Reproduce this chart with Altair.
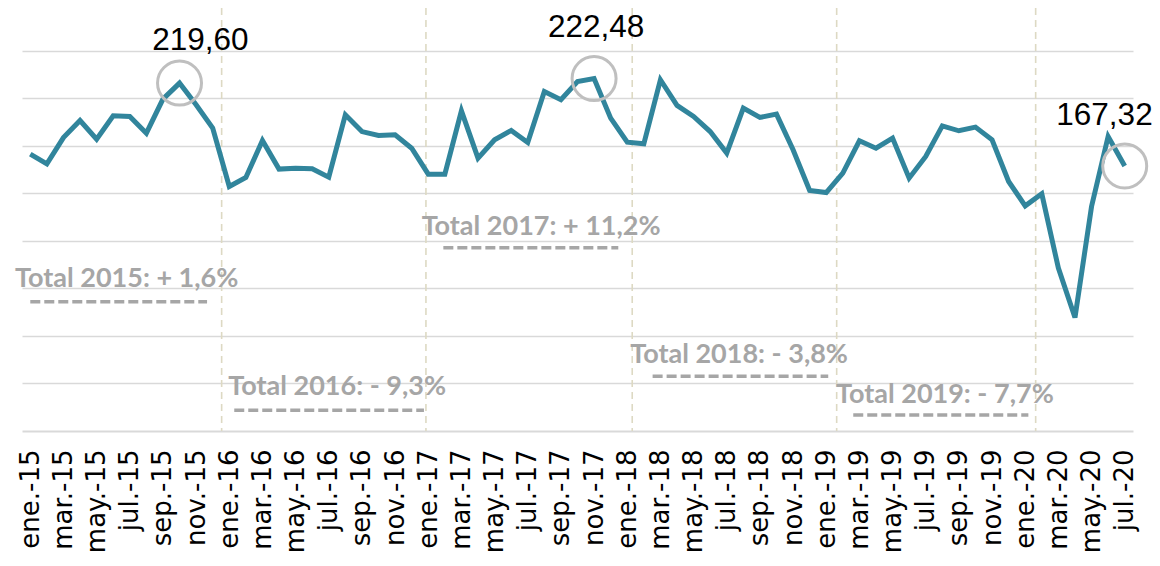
import altair as alt
import pandas as pd

month_abbr = ["ene.", "feb.", "mar.", "abr.", "may.", "jun.",
              "jul.", "ago.", "sep.", "oct.", "nov.", "dic."]
years = ["15", "16", "17", "18", "19", "20"]
months = [f"{m}-{y}" for y in years for m in month_abbr][:67]

values = [
    174.8, 168.6, 185.2, 196.0, 184.2, 199.0, 198.5, 188.0, 209.5, 219.60, 205.9, 191.2,
    154.3, 160.0, 183.4, 165.3, 165.9, 165.5, 160.2, 199.6, 189.0, 186.5, 187.0, 178.5,
    162.1, 162.1, 202.1, 172.2, 183.8, 189.7, 182.1, 214.3, 209.1, 220.6, 222.48, 197.5,
    182.3, 181.3, 221.7, 205.5, 198.5, 189.0, 175.4, 203.8, 197.9, 200.0, 177.5, 151.8,
    150.5, 162.8, 183.2, 178.5, 184.9, 159.6, 173.3, 192.6, 189.5, 191.8, 183.8, 157.5,
    142.1, 149.7, 102.8, 71.6, 141.7, 185.9, 167.32,
]

# highlighted points and where their value labels sit (data units)
highlight_idx = [9, 34, 66]
label_x = [10.26, 34.12, 64.78]
label_y = [240.5, 248.7, 193.1]

# yearly totals annotations (data units)
total_texts = ["Total 2015: + 1,6%", "Total 2016: - 9,3%", "Total 2017: + 11,2%",
               "Total 2018: - 3,8%", "Total 2019: - 7,7%"]
total_x = [-0.92, 11.94, 23.6, 36.18, 48.59]
total_y = [91.1, 23.0, 123.7, 42.7, 17.9]
dash_x1 = [0.0, 12.3, 24.91, 37.53, 49.63]
dash_x2 = [10.66, 23.74, 35.46, 48.12, 60.19]
dash_y = [81.6, 13.1, 115.7, 34.5, 10.1]

# year separators (month-index units)
year_lines = [11.54, 23.86, 36.30, 48.63, 60.63]

df = pd.DataFrame({"idx": list(range(len(months))), "month": months, "value": values})
hl = pd.DataFrame({
    "idx": highlight_idx,
    "value": [values[i] for i in highlight_idx],
    "lx": label_x,
    "ly": label_y,
    "text": [f"{values[i]:.2f}".replace(".", ",") for i in highlight_idx],
})
totals = pd.DataFrame({"text": total_texts, "tx": total_x, "ty": total_y,
                       "x1": dash_x1, "x2": dash_x2, "dy": dash_y})
ylines = pd.DataFrame({"yx": year_lines})

label_js = "[" + ",".join(f"'{m}'" for m in months) + "]"

xscale = alt.Scale(domain=[-0.5, 66.5], nice=False, zero=False)
yscale = alt.Scale(domain=[0, 267], nice=False, zero=True)
xaxis = alt.Axis(values=list(range(0, 67, 2)), labelExpr=f"{label_js}[datum.value]",
                 labelAngle=-90, labelFont="DejaVu Sans", labelFontSize=26,
                 labelColor="black", labelPadding=18, ticks=False, grid=False,
                 domain=True, domainColor="#d9d9d9", domainWidth=2, title=None,
                 labelOverlap=False, labelFlush=False, labelBound=False)
yaxis = alt.Axis(values=[30, 60, 90, 120, 150, 180, 210, 240], grid=True,
                 gridColor="#d9d9d9", gridWidth=1.6, labels=False, ticks=False,
                 domain=False, title=None, minExtent=0, maxExtent=0)


def X(field):
    return alt.X(field, type="quantitative", scale=xscale, axis=xaxis)


def Y(field):
    return alt.Y(field, type="quantitative", scale=yscale, axis=yaxis)


sep = alt.Chart(ylines).mark_rule(color="#ddd9c3", strokeWidth=1.6, strokeDash=[7, 5]).encode(
    x=X("yx")
)

line = alt.Chart(df).mark_line(color="#31859c", strokeWidth=5).encode(
    x=X("idx"), y=Y("value")
)

circles = alt.Chart(hl).mark_point(shape="circle", size=1936, filled=False,
                                   stroke="#bfbfbf", strokeWidth=3, opacity=1).encode(
    x=X("idx"), y=Y("value")
)

vlabels = alt.Chart(hl).mark_text(font="Liberation Sans", fontSize=31.5, color="black",
                                  align="center", baseline="alphabetic").encode(
    x=X("lx"), y=Y("ly"), text="text:N"
)

dashes = alt.Chart(totals).mark_rule(color="#a6a6a6", strokeWidth=3.5, strokeDash=[10, 4]).encode(
    x=X("x1"), x2="x2:Q", y=Y("dy")
)

tlabels = alt.Chart(totals).mark_text(font="Lato", fontWeight="bold", fontSize=27,
                                      color="#a6a6a6", align="left",
                                      baseline="alphabetic").encode(
    x=X("tx"), y=Y("ty"), text="text:N"
)

chart = alt.layer(sep, line, circles, vlabels, dashes, tlabels).properties(
    width=1111, height=423,
    padding={"left": 14, "top": 0, "right": 19, "bottom": 124},
    autosize=alt.AutoSizeParams(type="none"),
).configure_view(stroke=None)

chart.save("out.html", embed_options={"renderer": "svg", "actions": False})
